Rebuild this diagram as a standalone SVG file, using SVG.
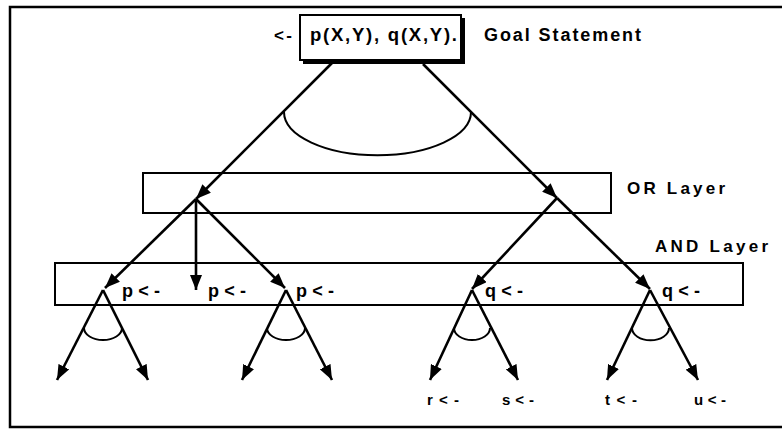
<svg xmlns="http://www.w3.org/2000/svg" width="782" height="430" viewBox="0 0 782 430">
<style>
.t{font-family:"Liberation Sans",Arial,sans-serif;font-weight:bold;fill:#000}
.box{fill:none;stroke:#000;stroke-width:2}
.ln{stroke:#000;stroke-width:2.6;fill:none}
.arc{stroke:#000;stroke-width:2;fill:none}
</style>
<defs>
<marker id="ah" markerUnits="userSpaceOnUse" markerWidth="15" markerHeight="12" refX="15" refY="6" orient="auto">
<path d="M0,0 L15,6 L0,12 z" fill="#000"/>
</marker>
</defs>
<rect x="0" y="0" width="782" height="430" fill="#fff"/>
<path d="M790,7 L10,7 L10,427 L790,427" fill="none" stroke="#000" stroke-width="2.5"/>

<g id="goal">
<rect class="box" x="300" y="15" width="161" height="45" fill="#fff"/>
<polyline points="303,62 463,62 463,18" fill="none" stroke="#000" stroke-width="4"/>
<text class="t" x="274" y="41" font-size="17" textLength="18" lengthAdjust="spacing">&lt;-</text>
<text class="t" x="310" y="41" font-size="18.5" textLength="147" lengthAdjust="spacing">p(X,Y),  q(X,Y).</text>
<text class="t" x="484" y="41" font-size="18" textLength="157" lengthAdjust="spacing">Goal  Statement</text>
</g>

<g id="or-layer">
<rect class="box" x="143" y="173" width="468" height="40"/>
<text class="t" x="627" y="194" font-size="17" textLength="98" lengthAdjust="spacing">OR Layer</text>
</g>

<g id="and-layer">
<rect class="box" x="55" y="263" width="688" height="42"/>
<text class="t" x="655" y="252" font-size="17" textLength="113" lengthAdjust="spacing">AND Layer</text>
<text class="t" x="122" y="297" font-size="18" textLength="38" lengthAdjust="spacing">p&lt;-</text>
<text class="t" x="208" y="297" font-size="18" textLength="38" lengthAdjust="spacing">p&lt;-</text>
<text class="t" x="296" y="297" font-size="18" textLength="38" lengthAdjust="spacing">p&lt;-</text>
<text class="t" x="485" y="297" font-size="18" textLength="38" lengthAdjust="spacing">q&lt;-</text>
<text class="t" x="662" y="297" font-size="18" textLength="38" lengthAdjust="spacing">q&lt;-</text>
</g>

<g id="leaves">
<text class="t" x="427" y="405" font-size="15" textLength="32" lengthAdjust="spacing">r&lt;-</text>
<text class="t" x="502" y="405" font-size="15" textLength="32" lengthAdjust="spacing">s&lt;-</text>
<text class="t" x="605" y="405" font-size="15" textLength="32" lengthAdjust="spacing">t&lt;-</text>
<text class="t" x="694" y="405" font-size="15" textLength="32" lengthAdjust="spacing">u&lt;-</text>
</g>

<g id="connectors">
<line class="ln" x1="333" y1="62" x2="196" y2="199" marker-end="url(#ah)"/>
<line class="ln" x1="423" y1="64" x2="557" y2="198" marker-end="url(#ah)"/>
<line class="ln" x1="557" y1="198" x2="650" y2="289" marker-end="url(#ah)"/>
<path class="arc" d="M284,112 A93,43 0 0 0 471,112"/>

<line class="ln" x1="196" y1="199" x2="105" y2="288" marker-end="url(#ah)"/>
<line class="ln" x1="196" y1="199" x2="196" y2="290" marker-end="url(#ah)"/>
<line class="ln" x1="196" y1="199" x2="285" y2="288" marker-end="url(#ah)"/>
<line class="ln" x1="557" y1="198" x2="472" y2="289" marker-end="url(#ah)"/>

<line class="ln" x1="103" y1="290" x2="57" y2="380" marker-end="url(#ah)"/>
<line class="ln" x1="103" y1="290" x2="148" y2="380" marker-end="url(#ah)"/>
<path class="arc" d="M84,328 A19,12 0 0 0 122,328"/>

<line class="ln" x1="286" y1="290" x2="242" y2="380" marker-end="url(#ah)"/>
<line class="ln" x1="286" y1="290" x2="332" y2="380" marker-end="url(#ah)"/>
<path class="arc" d="M267,328 A19,12 0 0 0 305,328"/>

<line class="ln" x1="472" y1="290" x2="430" y2="380" marker-end="url(#ah)"/>
<line class="ln" x1="472" y1="290" x2="518" y2="380" marker-end="url(#ah)"/>
<path class="arc" d="M454,328 A18,12 0 0 0 490,328"/>

<line class="ln" x1="650" y1="290" x2="607" y2="380" marker-end="url(#ah)"/>
<line class="ln" x1="650" y1="290" x2="698" y2="380" marker-end="url(#ah)"/>
<path class="arc" d="M632,328 A18,12 0 0 0 669,328"/>
</g>
</svg>
